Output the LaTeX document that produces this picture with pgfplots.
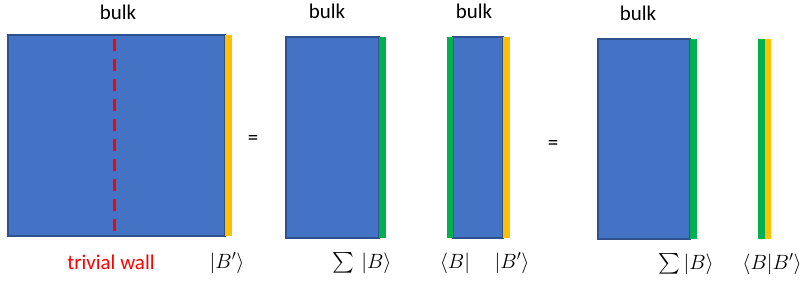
\documentclass[border=0pt]{standalone}
\usepackage{amsmath}
\usepackage{exscale}
\usepackage{pgfplots}
\pgfplotsset{compat=1.18}
\usepackage{fontspec}
\setmainfont{Carlito}
\definecolor{bblue}{HTML}{4472C4}
\definecolor{bedge}{HTML}{2F528F}
\definecolor{bgreen}{HTML}{00B050}
\definecolor{byellow}{HTML}{FFC000}
\definecolor{bred}{HTML}{FF0000}
\begin{document}
\begin{tikzpicture}
\begin{axis}[
  width=805bp, height=282bp, scale only axis,
  xmin=0, xmax=805, ymin=0, ymax=282, y dir=reverse,
  hide axis, clip=false,
]
% blue blocks
\addplot[fill=bblue, draw=bedge, line width=1.2bp] coordinates {(8,35) (225,35) (225,236) (8,236)} -- cycle;
\addplot[fill=bblue, draw=bedge, line width=1.2bp] coordinates {(286,37) (379,37) (379,238) (286,238)} -- cycle;
\addplot[fill=bblue, draw=bedge, line width=1.2bp] coordinates {(453,37) (503,37) (503,238) (453,238)} -- cycle;
\addplot[fill=bblue, draw=bedge, line width=1.2bp] coordinates {(598,39) (690,39) (690,239) (598,239)} -- cycle;
% yellow strips
\addplot[fill=byellow, draw=none] coordinates {(225,35) (232,35) (232,236) (225,236)} -- cycle;
\addplot[fill=byellow, draw=none] coordinates {(503,37) (510,37) (510,238) (503,238)} -- cycle;
\addplot[fill=byellow, draw=none] coordinates {(765,39) (771,39) (771,239) (765,239)} -- cycle;
% green strips
\addplot[fill=bgreen, draw=none] coordinates {(379,37) (386,37) (386,238) (379,238)} -- cycle;
\addplot[fill=bgreen, draw=none] coordinates {(447,37) (453,37) (453,238) (447,238)} -- cycle;
\addplot[fill=bgreen, draw=none] coordinates {(690,39) (697,39) (697,239) (690,239)} -- cycle;
\addplot[fill=bgreen, draw=none] coordinates {(758,39) (765,39) (765,239) (758,239)} -- cycle;
% trivial wall
\addplot[bred, line width=3bp, dash pattern=on 12bp off 8bp] coordinates {(114,39) (114,233)};
% labels
\tikzset{lab/.style={font=\fontsize{21}{25}\selectfont}, mlab/.style={font=\fontsize{22}{26}\selectfont, inner sep=1pt}}
\node[lab] at (axis cs:118,12) {bulk};
\node[lab] at (axis cs:327,11) {bulk};
\node[lab] at (axis cs:474,11) {bulk};
\node[lab] at (axis cs:638,13) {bulk};
\node[lab] at (axis cs:253,140) {=};
\node[lab] at (axis cs:553,145) {=};
\node[lab, text=bred] at (axis cs:111,262) {trivial wall};
\node[mlab] at (axis cs:227,263) {$|B'\rangle$};
\node[mlab] at (axis cs:362,263) {$\textstyle\sum\,|B\rangle$};
\node[mlab] at (axis cs:455,263) {$\langle B|$};
\node[mlab] at (axis cs:512,263) {$|B'\rangle$};
\node[mlab] at (axis cs:686,264) {$\textstyle\sum|B\rangle$};
\node[mlab] at (axis cs:772,264) {$\langle B|B'\rangle$};
\end{axis}
\pgfresetboundingbox
\path[use as bounding box] (current axis.south west) rectangle (current axis.north east);
\end{tikzpicture}
\end{document}
